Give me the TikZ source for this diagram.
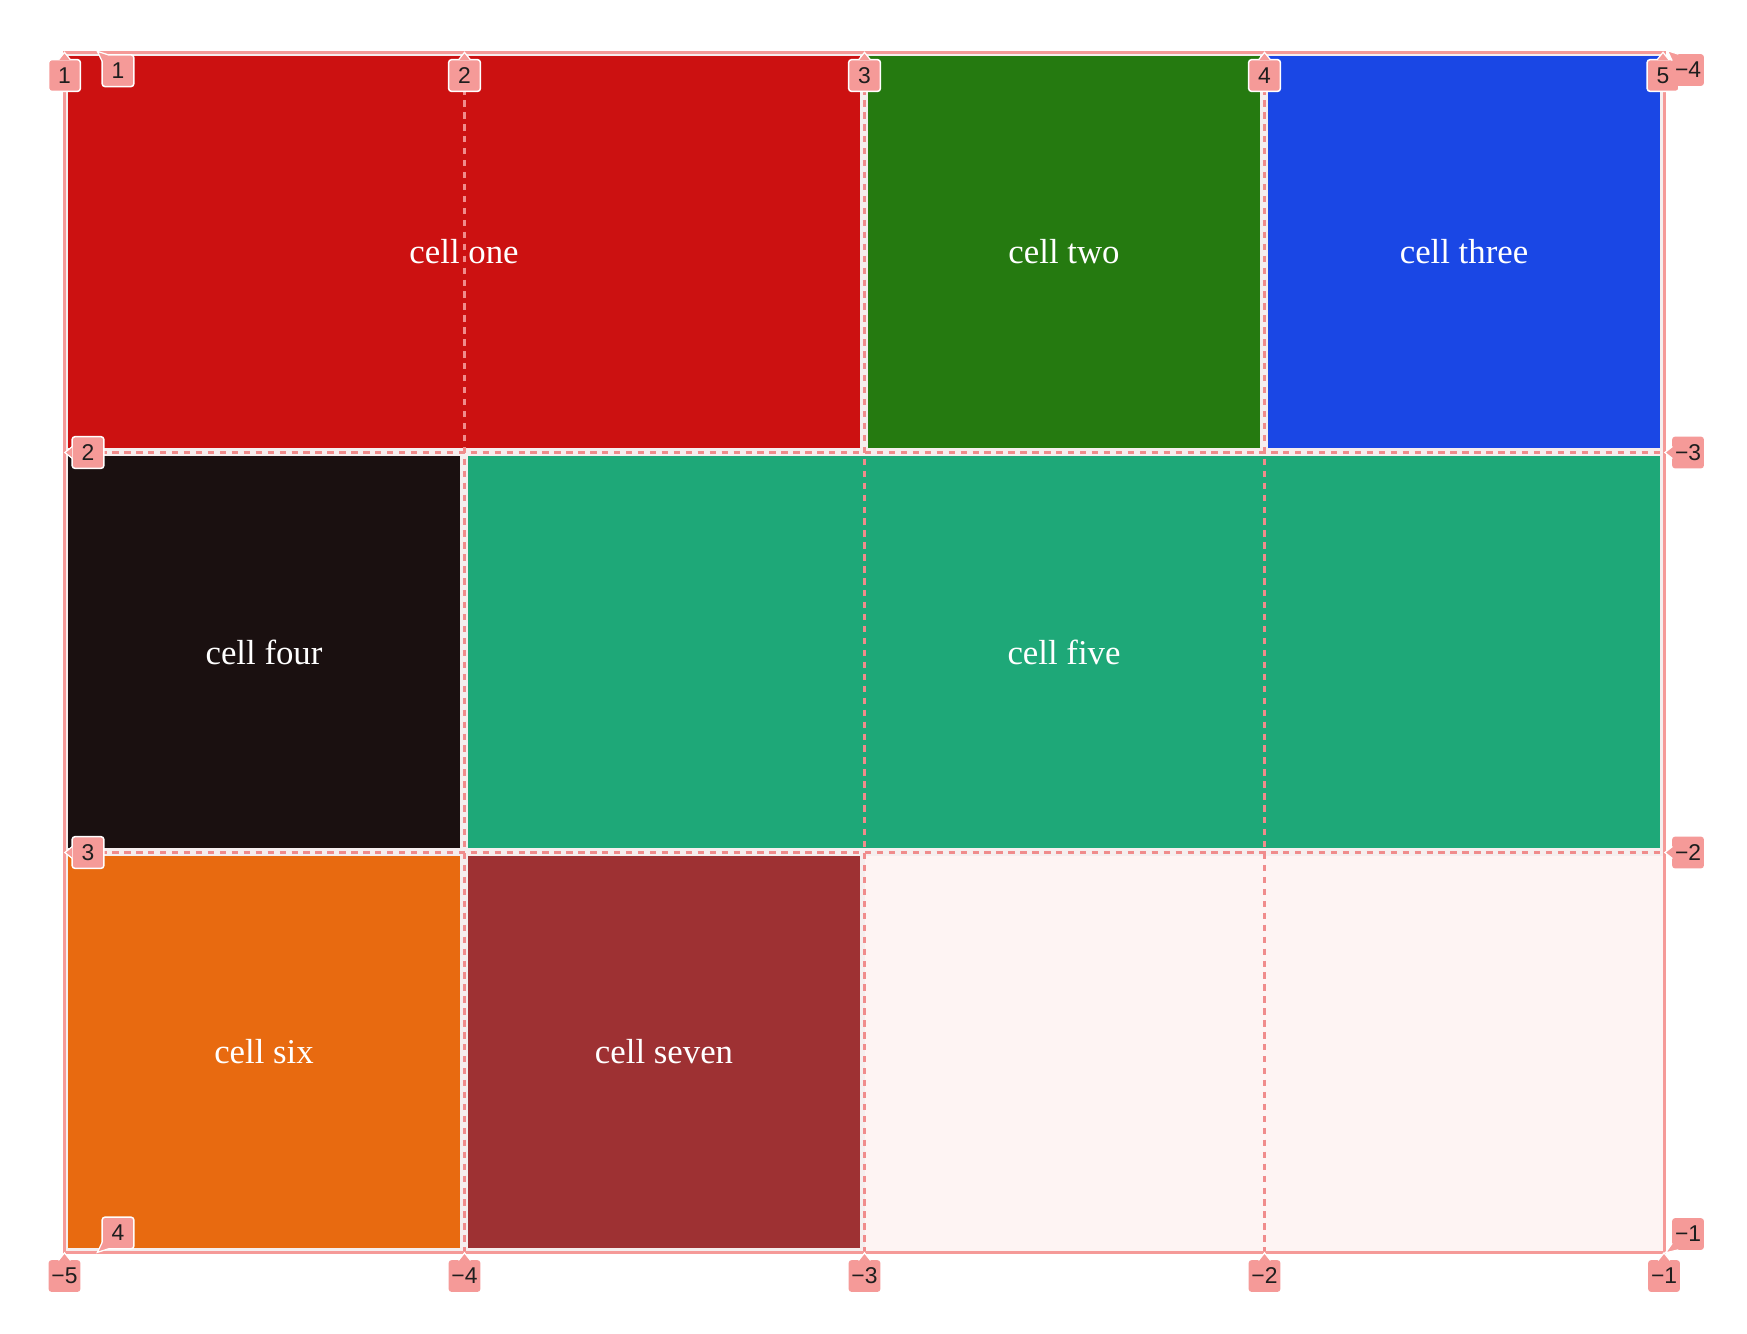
\documentclass[tikz,border=0pt]{standalone}
\usepackage{fontspec}
\setmainfont{Liberation Serif}
\newfontfamily\lblfont{Liberation Sans}
\usepackage{tikz}
\definecolor{cellred}{RGB}{204,17,17}
\definecolor{cellgreen}{RGB}{37,122,16}
\definecolor{cellblue}{RGB}{26,71,229}
\definecolor{celldark}{RGB}{26,16,16}
\definecolor{cellteal}{RGB}{30,168,120}
\definecolor{cellorange}{RGB}{232,106,16}
\definecolor{cellbrown}{RGB}{158,49,51}
\definecolor{emptypink}{RGB}{254,244,243}
\definecolor{gapgray}{RGB}{245,238,238}
\definecolor{linepink}{RGB}{240,140,140}
\definecolor{lblpink}{RGB}{245,154,152}
\definecolor{lbltext}{RGB}{30,30,30}

\def\pxl{0.02cm}

\begin{document}
\begin{tikzpicture}[
  x=0.02cm, y=-0.02cm,
  %% styles
  cell/.style={rectangle, fill=#1, inner sep=0pt,
               text=white, font=\fontsize{19.8}{24}\selectfont},
  gline/.style={draw=linepink, line width=1.3pt,
                dash pattern=on 3.6pt off 3.2pt},
  frame/.style={draw=lblpink, line width=1.3pt},
  numlbl/.style={rectangle, rounded corners=1.7pt,
                 fill=lblpink, draw=white, line width=0.85pt,
                 minimum size=18.1pt, inner sep=0pt,
                 font=\lblfont\fontsize{13}{15}\selectfont, text=lbltext},
  neglbl/.style={numlbl, draw=none},
  tip/.style={fill=lblpink, draw=white, line width=0.7pt},
]

%%
%% grid lines (pixel positions, y downwards)
%%
\def\Xa{64.5}   \def\Xb{464.5}  \def\Xc{864.5}
\def\Xd{1264.5} \def\Xe{1664.5}
\def\Ya{52.5}   \def\Yb{452.5}  \def\Yc{852.5}  \def\Yd{1252.5}

\useasboundingbox (0,0) rectangle (1747,1333);

%% ------ container ------------------------------------------------------
\fill[gapgray] (\Xa,\Ya) rectangle (\Xe,\Yd);
\fill[emptypink] (\Xc,856) rectangle (\Xe,\Yd);

%% ------ cells ----------------------------------------------------------
\node[cell=cellred, minimum width=792*\pxl, minimum height=392*\pxl]
  (one) at (464,252) {cell one};
\node[cell=cellgreen, minimum width=392*\pxl, minimum height=392*\pxl]
  (two) at (1064,252) {cell two};
\node[cell=cellblue, minimum width=392*\pxl, minimum height=392*\pxl]
  (three) at (1464,252) {cell three};
\node[cell=celldark, minimum width=392*\pxl, minimum height=392*\pxl]
  (four) at (264,652) {cell four};
\node[cell=cellteal, minimum width=1192*\pxl, minimum height=392*\pxl]
  (five) at (1064,652) {cell five};
\node[cell=cellorange, minimum width=392*\pxl, minimum height=392*\pxl]
  (six) at (264,1052) {cell six};
\node[cell=cellbrown, minimum width=392*\pxl, minimum height=392*\pxl]
  (seven) at (664,1052) {cell seven};

%% ------ dashed grid lines + outline ----------------------------------
\draw[gline] (\Xb,\Ya) -- (\Xb,\Yd);
\draw[gline] (\Xc,\Ya) -- (\Xc,\Yd);
\draw[gline] (\Xd,\Ya) -- (\Xd,\Yd);
\draw[gline] (\Xa,\Yb) -- (\Xe,\Yb);
\draw[gline] (\Xa,\Yc) -- (\Xe,\Yc);
\draw[frame] (\Xa,\Ya) rectangle (\Xe,\Yd);

%% ------ line numbers ---------------------------------------------------

%% columns, top
\node[numlbl] (c1) at (64.5,75.5)  {1};
\filldraw[tip] (c1.north) ++(-6,1) -- ++(6,-7.5) -- ++(6,7.5);
\node[numlbl] (c2) at (464.5,75.5) {2};
\filldraw[tip] (c2.north) ++(-6,1) -- ++(6,-7.5) -- ++(6,7.5);
\node[numlbl] (c3) at (864.5,75.5) {3};
\filldraw[tip] (c3.north) ++(-6,1) -- ++(6,-7.5) -- ++(6,7.5);
\node[numlbl] (c4) at (1264.5,75.5) {4};
\filldraw[tip] (c4.north) ++(-6,1) -- ++(6,-7.5) -- ++(6,7.5);
\node[numlbl] (c5) at (1663,75.5) {5};
\filldraw[tip] (c5.north) ++(-6,1) -- ++(6,-7.5) -- ++(6,7.5);

%% rows, left
\node[numlbl] (r1) at (118,70.7) {1};
\filldraw[tip] (r1.north west) ++(7,0.8) -- ++(-11,-3.5) -- ++(4.8,10);
\node[numlbl] (r2) at (88,452.5) {2};
\filldraw[tip] (r2.west) ++(1,-6) -- ++(-7.5,6) -- ++(7.5,6);
\node[numlbl] (r3) at (88,852.5) {3};
\filldraw[tip] (r3.west) ++(1,-6) -- ++(-7.5,6) -- ++(7.5,6);
\node[numlbl] (r4) at (118,1233) {4};
\filldraw[tip] (r4.south west) ++(7,-0.8) -- ++(-11,3.5) -- ++(4.8,-10);

%% columns, bottom (negative)
\node[neglbl] (n5) at (64.5,1276) {−5};
\filldraw[tip] (n5.north) ++(-6,1) -- ++(6,-7.5) -- ++(6,7.5);
\node[neglbl] (n4) at (464.5,1276) {−4};
\filldraw[tip] (n4.north) ++(-6,1) -- ++(6,-7.5) -- ++(6,7.5);
\node[neglbl] (n3) at (864.5,1276) {−3};
\filldraw[tip] (n3.north) ++(-6,1) -- ++(6,-7.5) -- ++(6,7.5);
\node[neglbl] (n2) at (1264.5,1276) {−2};
\filldraw[tip] (n2.north) ++(-6,1) -- ++(6,-7.5) -- ++(6,7.5);
\node[neglbl] (n1) at (1664,1276) {−1};
\filldraw[tip] (n1.north) ++(-6,1) -- ++(6,-7.5) -- ++(6,7.5);

%% rows, right (negative)
\node[neglbl] (m4) at (1688,70) {−4};
\filldraw[tip] (m4.north west) ++(7,0.8) -- ++(-11,-3.5) -- ++(4.8,10);
\node[neglbl] (m3) at (1688,452.5) {−3};
\filldraw[tip] (m3.west) ++(1,-6) -- ++(-7.5,6) -- ++(7.5,6);
\node[neglbl] (m2) at (1688,852.5) {−2};
\filldraw[tip] (m2.west) ++(1,-6) -- ++(-7.5,6) -- ++(7.5,6);
\node[neglbl] (m1) at (1688,1234) {−1};
\filldraw[tip] (m1.south west) ++(7,-0.8) -- ++(-13,3) -- ++(6.8,-9.5);

\end{tikzpicture}
\end{document}
